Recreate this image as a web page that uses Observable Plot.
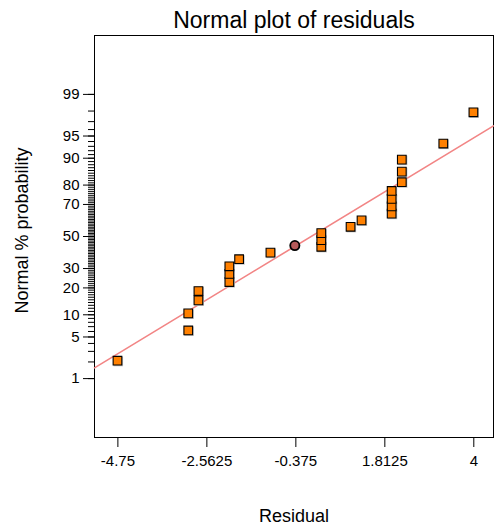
<!DOCTYPE html>
<html>
<head>
<meta charset="utf-8">
<script src="https://cdn.jsdelivr.net/npm/d3@7"></script>
<script src="https://cdn.jsdelivr.net/npm/@observablehq/plot@0.6"></script>
<style>
  html, body { margin: 0; padding: 0; background: #fff; }
  #chart svg { display: block; }
</style>
</head>
<body>
<div id="chart"></div>
<script>
// ---- data ----
const residuals = [-4.76, -3.02, -3.02, -2.77, -2.77, -2.01, -2.01, -2.01, -1.77, -1.0,
                   0.25, 0.25, 0.25, 0.97, 1.24, 1.98, 1.98, 1.98, 1.98,
                   2.23, 2.23, 2.23, 3.25, 3.99];
const probabilities = [2.1, 6.2, 10.4, 14.8, 18.6, 22.8, 27.0, 31.3, 35.5, 39.6,
                       43.3, 47.6, 52.2, 56.3, 60.4, 64.6, 68.9, 73.1, 77.2,
                       81.3, 85.6, 89.6, 93.6, 97.9];
const highlightResidual = [-0.40];
const highlightProbability = [44.1];
const xTicks = [-4.75, -2.5625, -0.375, 1.8125, 4];
const yMajorTicks = [1, 5, 10, 20, 30, 50, 70, 80, 90, 95, 99];
const yMinorTicks = d3.range(1, 100);
const xDomain = [-5.325, 4.484];
const yDomainPct = [0.05, 99.95];
const fitMean = 0;
const fitSd = 2.475;

// inverse normal CDF (Acklam)
function probit(p) {
  const a = [-3.969683028665376e+01, 2.209460984245205e+02, -2.759285104469687e+02, 1.383577518672690e+02, -3.066479806614716e+01, 2.506628277459239e+00];
  const b = [-5.447609879822406e+01, 1.615858368580409e+02, -1.556989798598866e+02, 6.680131188771972e+01, -1.328068155288572e+01];
  const c = [-7.784894002430293e-03, -3.223964580411365e-01, -2.400758277161838e+00, -2.549732539343734e+00, 4.374664141464968e+00, 2.938163982698783e+00];
  const d = [7.784695709041462e-03, 3.224671290700398e-01, 2.445134137142996e+00, 3.754408661907416e+00];
  const pl = 0.02425, ph = 1 - pl;
  let q, r;
  if (p < pl) {
    q = Math.sqrt(-2 * Math.log(p));
    return (((((c[0]*q+c[1])*q+c[2])*q+c[3])*q+c[4])*q+c[5]) / ((((d[0]*q+d[1])*q+d[2])*q+d[3])*q+1);
  } else if (p <= ph) {
    q = p - 0.5; r = q * q;
    return (((((a[0]*r+a[1])*r+a[2])*r+a[3])*r+a[4])*r+a[5])*q / (((((b[0]*r+b[1])*r+b[2])*r+b[3])*r+b[4])*r+1);
  } else {
    q = Math.sqrt(-2 * Math.log(1 - p));
    return -(((((c[0]*q+c[1])*q+c[2])*q+c[3])*q+c[4])*q+c[5]) / ((((d[0]*q+d[1])*q+d[2])*q+d[3])*q+1);
  }
}
const z = pct => probit(pct / 100);

const points = residuals.map((r, i) => ({r, z: z(probabilities[i])}));
const highlight = highlightResidual.map((r, i) => ({r, z: z(highlightProbability[i])}));
const fitLine = xDomain.map(r => ({r, z: (r - fitMean) / fitSd}));
const majorZ = yMajorTicks.map(z);
const labelOf = new Map(majorZ.map((v, i) => [v, String(yMajorTicks[i])]));

const font = "'Liberation Sans', Arial, sans-serif";

const chart = Plot.plot({
  width: 494,
  height: 526,
  marginLeft: 94,
  marginRight: 1,
  marginTop: 35,
  marginBottom: 89,
  style: {fontFamily: font, fontSize: "15px", color: "#000", background: "#fff"},
  x: {domain: xDomain},
  y: {domain: yDomainPct.map(z)},
  marks: [
    Plot.frame({stroke: "#000", strokeWidth: 1}),
    Plot.axisX({ticks: xTicks, tickSize: 10, tickPadding: 8, tickFormat: d => String(d),
                fontSize: 15, label: null, stroke: "#000", strokeOpacity: 1}),
    Plot.axisY({ticks: yMinorTicks.map(z), tickSize: 6, tickFormat: () => "", label: null,
                stroke: "#000", strokeOpacity: 1}),
    Plot.axisY({ticks: majorZ, tickSize: 11, tickPadding: 4, tickFormat: v => labelOf.get(v),
                fontSize: 15, label: null, stroke: "#000", strokeOpacity: 1}),
    Plot.line(fitLine, {x: "r", y: "z", stroke: "#f28585", strokeWidth: 1.6}),
    Plot.dot(points, {x: "r", y: "z", symbol: "square", r: 5.4, dx: 0.8, dy: 0.8, fill: "#c4c4c4", stroke: "none"}),
    Plot.dot(points, {x: "r", y: "z", symbol: "square", r: 4.9, fill: "#ff8000", stroke: "#000", strokeWidth: 1.1}),
    Plot.dot(highlight, {x: "r", y: "z", r: 4.6, fill: "#b65a5a", stroke: "#000", strokeWidth: 1.8}),
    Plot.text(["Normal plot of residuals"], {frameAnchor: "top", lineAnchor: "middle", dy: -14.5, fontSize: 23, fill: "#000"}),
    Plot.text(["Normal % probability"], {frameAnchor: "left", textAnchor: "middle", lineAnchor: "middle", dx: -72, dy: -6, rotate: -90, fontSize: 18, fill: "#000"}),
    Plot.text(["Residual"], {frameAnchor: "bottom", lineAnchor: "middle", dy: 79, fontSize: 18, fill: "#000"})
  ]
});
document.getElementById("chart").appendChild(chart);
</script>
</body>
</html>
